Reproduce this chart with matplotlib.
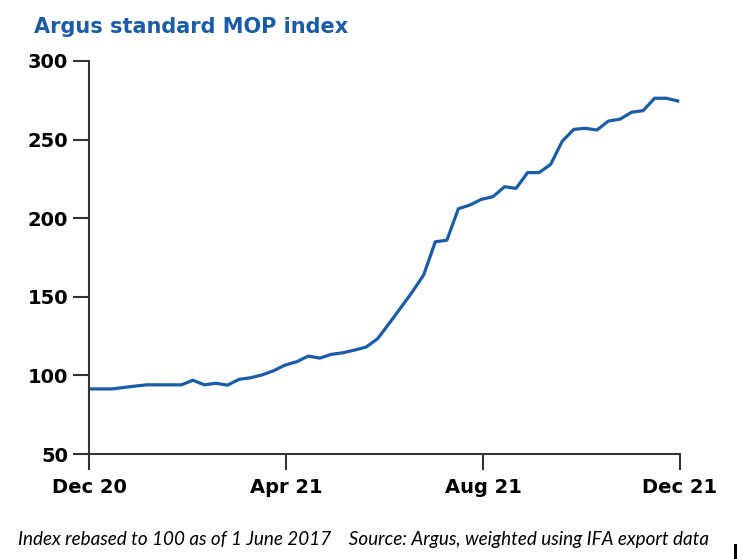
import matplotlib.pyplot as plt
from matplotlib.patches import Rectangle

# weekly index values, Dec 2020 - Dec 2021
index_values = [91.4, 91.4, 91.4, 92.3, 93.2, 94.0, 94.0, 94.0, 94.0, 96.9,
                94.0, 95.0, 93.8, 97.5, 98.5, 100.3, 103.0, 106.6, 108.7, 112.3,
                111.0, 113.4, 114.4, 116.1, 118.0, 123.3, 133.0, 143.0, 153.0, 164.0,
                185.0, 186.0, 206.0, 208.4, 212.0, 213.7, 220.0, 219.0, 229.0, 229.0,
                234.3, 249.0, 256.5, 257.2, 256.1, 261.8, 263.0, 267.4, 268.4, 276.3,
                276.3, 274.6]
weeks = list(range(len(index_values)))
tick_labels = ["Dec 20", "Apr 21", "Aug 21", "Dec 21"]
y_ticks = [50, 100, 150, 200, 250, 300]

blue = "#1a5ca8"
dark = "#333333"

fig = plt.figure(figsize=(7.37, 5.59), dpi=100)
ax = fig.add_axes([89 / 737, 1 - 454 / 559, 591 / 737, 393 / 559])

ax.plot(weeks, index_values, color=blue, lw=2.3, solid_joinstyle="round")

x_end = 51.2
ax.set_xlim(0, x_end)
ax.set_ylim(50, 300)
ax.set_xticks([x_end * i / 3 for i in range(4)])
ax.set_xticklabels(tick_labels)
ax.set_yticks(y_ticks)

for s in ["top", "right"]:
    ax.spines[s].set_visible(False)
for s in ["left", "bottom"]:
    ax.spines[s].set_color(dark)
    ax.spines[s].set_linewidth(1.5)

ax.tick_params(axis="both", colors=dark, width=1.5, length=11.5, labelcolor="black")
ax.tick_params(axis="y", pad=3.5, labelsize=14)
ax.tick_params(axis="x", pad=6, labelsize=14)
for lbl in ax.get_xticklabels() + ax.get_yticklabels():
    lbl.set_fontweight("bold")

fig.text(34 / 737, 1 - 33 / 559, "Argus standard MOP index", color=blue,
         fontsize=15, fontweight="bold", ha="left", va="baseline")
fig.text(18 / 737, 1 - 545 / 559,
         "Index rebased to 100 as of 1 June 2017    Source: Argus, weighted using IFA export data",
         fontsize=13.6, style="italic", family="Lato", ha="left", va="baseline")

fig.patches.append(Rectangle((734 / 737, 0), 3 / 737, 15 / 559, transform=fig.transFigure,
                             color="black", lw=0))

fig.savefig("out.png", dpi=100)
